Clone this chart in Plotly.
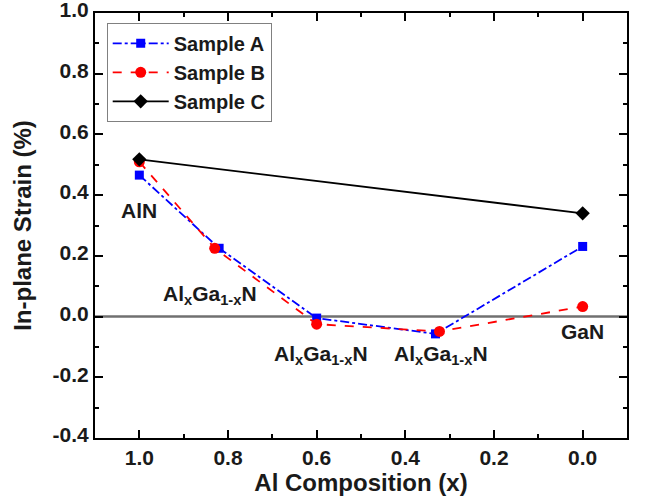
import plotly.graph_objects as go

# Data
xa = [1.0, 0.82, 0.60, 0.332, 0.0]
ya = [0.466, 0.225, -0.005, -0.057, 0.231]
xb = [1.0, 0.83, 0.60, 0.323, 0.0]
yb = [0.51, 0.225, -0.025, -0.049, 0.033]
xc = [1.0, 0.0]
yc = [0.518, 0.34]

label_text = ["AlN", "Al<sub>x</sub>Ga<sub>1-x</sub>N", "Al<sub>x</sub>Ga<sub>1-x</sub>N",
              "Al<sub>x</sub>Ga<sub>1-x</sub>N", "GaN"]
label_x = [1.0, 0.84, 0.59, 0.32, 0.0]
label_y = [0.35, 0.07, -0.125, -0.125, -0.05]

xticks = [1.0, 0.8, 0.6, 0.4, 0.2, 0.0]
yticks = [1.0, 0.8, 0.6, 0.4, 0.2, 0.0, -0.2, -0.4]

FONT = "Liberation Sans"
TXT = "#1a1a1a"

fig = go.Figure()
fig.add_trace(go.Scatter(x=xa, y=ya, name="<b>Sample A</b>", mode="lines+markers",
                         line=dict(color="#0000ff", width=1.8, dash="dashdot"),
                         marker=dict(symbol="square", size=9, color="#0000ff")))
fig.add_trace(go.Scatter(x=xb, y=yb, name="<b>Sample B</b>", mode="lines+markers",
                         line=dict(color="#ff0000", width=1.8, dash="dash"),
                         marker=dict(symbol="circle", size=11, color="#ff0000")))
fig.add_trace(go.Scatter(x=xc, y=yc, name="<b>Sample C</b>", mode="lines+markers",
                         line=dict(color="#000000", width=1.8),
                         marker=dict(symbol="diamond", size=11, color="#000000")))

for t, x, y in zip(label_text, label_x, label_y):
    fig.add_annotation(x=x, y=y, text="<b>" + t + "</b>", showarrow=False,
                       font=dict(family=FONT, size=21, color=TXT))

fig.add_shape(type="line", xref="paper", x0=0, x1=1, y0=0, y1=0,
              line=dict(color="#707070", width=2.5), layer="below")

axis_common = dict(showline=True, linecolor="black", linewidth=2, mirror="ticks",
                   ticks="inside", ticklen=8, tickwidth=2, tickcolor="black",
                   showgrid=False, zeroline=False, automargin=False,
                   ticklabeloverflow="allow",
                   tickfont=dict(family=FONT, size=21, color=TXT))

fig.update_xaxes(range=[1.1, -0.1], tickvals=xticks,
                 ticktext=["<b>%.1f</b>" % v for v in xticks],
                 minor=dict(ticks="inside", dtick=0.1, ticklen=4, tickwidth=2, tickcolor="black"),
                 title=dict(text="<b>Al Composition (x)</b>", font=dict(family=FONT, size=24, color=TXT), standoff=4),
                 **axis_common)
fig.update_yaxes(range=[-0.4, 1.0], tickvals=yticks,
                 ticktext=["<b>%.1f</b>" % v for v in yticks],
                 ticklabelshift=-3,
                 minor=dict(ticks="inside", dtick=0.1, ticklen=4, tickwidth=2, tickcolor="black"),
                 title=dict(text="<b>In-plane Strain (%)</b>", font=dict(family=FONT, size=24, color=TXT), standoff=14),
                 **axis_common)

fig.update_layout(width=651, height=504, margin=dict(l=95, r=24, t=13, b=66),
                  paper_bgcolor="white", plot_bgcolor="white", showlegend=True,
                  legend=dict(x=0.022, y=0.977, xanchor="left", yanchor="top",
                              bordercolor="#808080", borderwidth=1, bgcolor="white",
                              font=dict(family=FONT, size=20, color=TXT),
                              itemwidth=56, tracegroupgap=0))

fig.write_html("out.html", config={"displayModeBar": False},
               post_script="document.body.style.margin='0';")
